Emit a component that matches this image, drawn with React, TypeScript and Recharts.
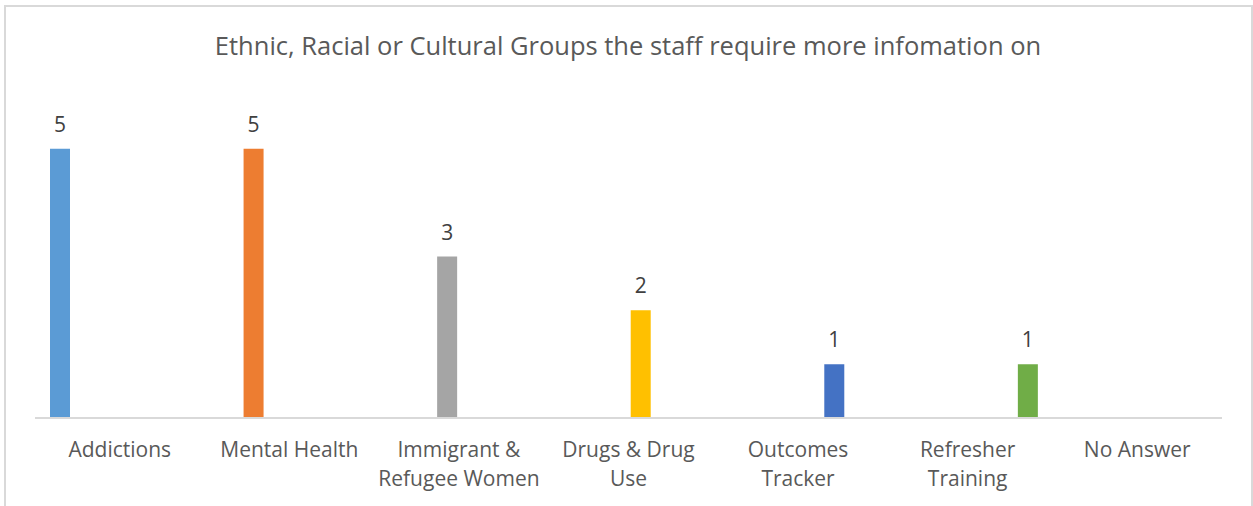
import { BarChart, Bar, XAxis, YAxis, LabelList } from "recharts"

const categories = [
  "Addictions",
  "Mental Health",
  "Immigrant &\nRefugee Women",
  "Drugs & Drug\nUse",
  "Outcomes\nTracker",
  "Refresher\nTraining",
  "No Answer",
]

// one series per answer (No Answer has none)
const seriesNames = ["Addictions", "Mental Health", "Immigrant & Refugee Women", "Drugs & Drug Use", "Outcomes Tracker", "Refresher Training"]
const seriesValues = [5, 5, 3, 2, 1, 1]
const COLORS = ["#5B9BD5", "#ED7D31", "#A5A5A5", "#FFC000", "#4472C4", "#70AD47"]

const data = categories.map((name, i) => {
  const row: Record<string, string | number | undefined> = { name }
  seriesNames.forEach((_, s) => {
    row[`s${s}`] = s === i ? seriesValues[s] : undefined
  })
  return row
})

const FONT = "'Open Sans', sans-serif"

const WrapTick = (props: any) => {
  const { x, y, payload } = props
  const lines = String(payload.value).split("\n")
  return (
    <text x={x} y={y} textAnchor="middle" fill="#595959" fontSize={21} fontFamily={FONT}>
      {lines.map((l, i) => (
        <tspan key={i} x={x} dy={i === 0 ? 31 : 29}>
          {l}
        </tspan>
      ))}
    </text>
  )
}

const ValueLabel = (props: any) => {
  const { x, y, width, value } = props
  if (value === undefined || value === null) return null
  return (
    <text x={x + width / 2} y={y - 17} textAnchor="middle" fill="#404040" fontSize={21} fontFamily={FONT}>
      {value}
    </text>
  )
}

export default function App() {
  return (
    <div style={{ position: "absolute", left: 0, top: 0, width: 1253, height: 506, overflow: "hidden", background: "#fff" }}>
      <div
        style={{
          position: "absolute",
          left: 4,
          top: 5,
          width: 1245,
          height: 540,
          border: "2px solid #d9d9d9",
        }}
      />
      <div
        style={{
          position: "absolute",
          left: 0,
          top: 26,
          width: 1256,
          textAlign: "center",
          fontFamily: FONT,
          fontSize: 25.5,
          color: "#595959",
          lineHeight: "38px",
        }}
      >
        Ethnic, Racial or Cultural Groups the staff require more infomation on
      </div>
      <div style={{ position: "absolute", left: 0, top: 0 }}>
        <BarChart
          width={1253}
          height={506}
          data={data}
          margin={{ top: 95, right: 31, left: 35, bottom: 0 }}
          barGap={4}
        >
          <XAxis
            dataKey="name"
            height={88}
            axisLine={{ stroke: "#d9d9d9", strokeWidth: 2 }}
            tickLine={false}
            tick={<WrapTick />}
            interval={0}
          />
          <YAxis hide domain={[0, 6]} />
          {seriesNames.map((n, s) => (
            <Bar key={n} dataKey={`s${s}`} name={n} fill={COLORS[s]} barSize={20} isAnimationActive={false}>
              <LabelList dataKey={`s${s}`} content={<ValueLabel />} />
            </Bar>
          ))}
        </BarChart>
      </div>
    </div>
  )
}
